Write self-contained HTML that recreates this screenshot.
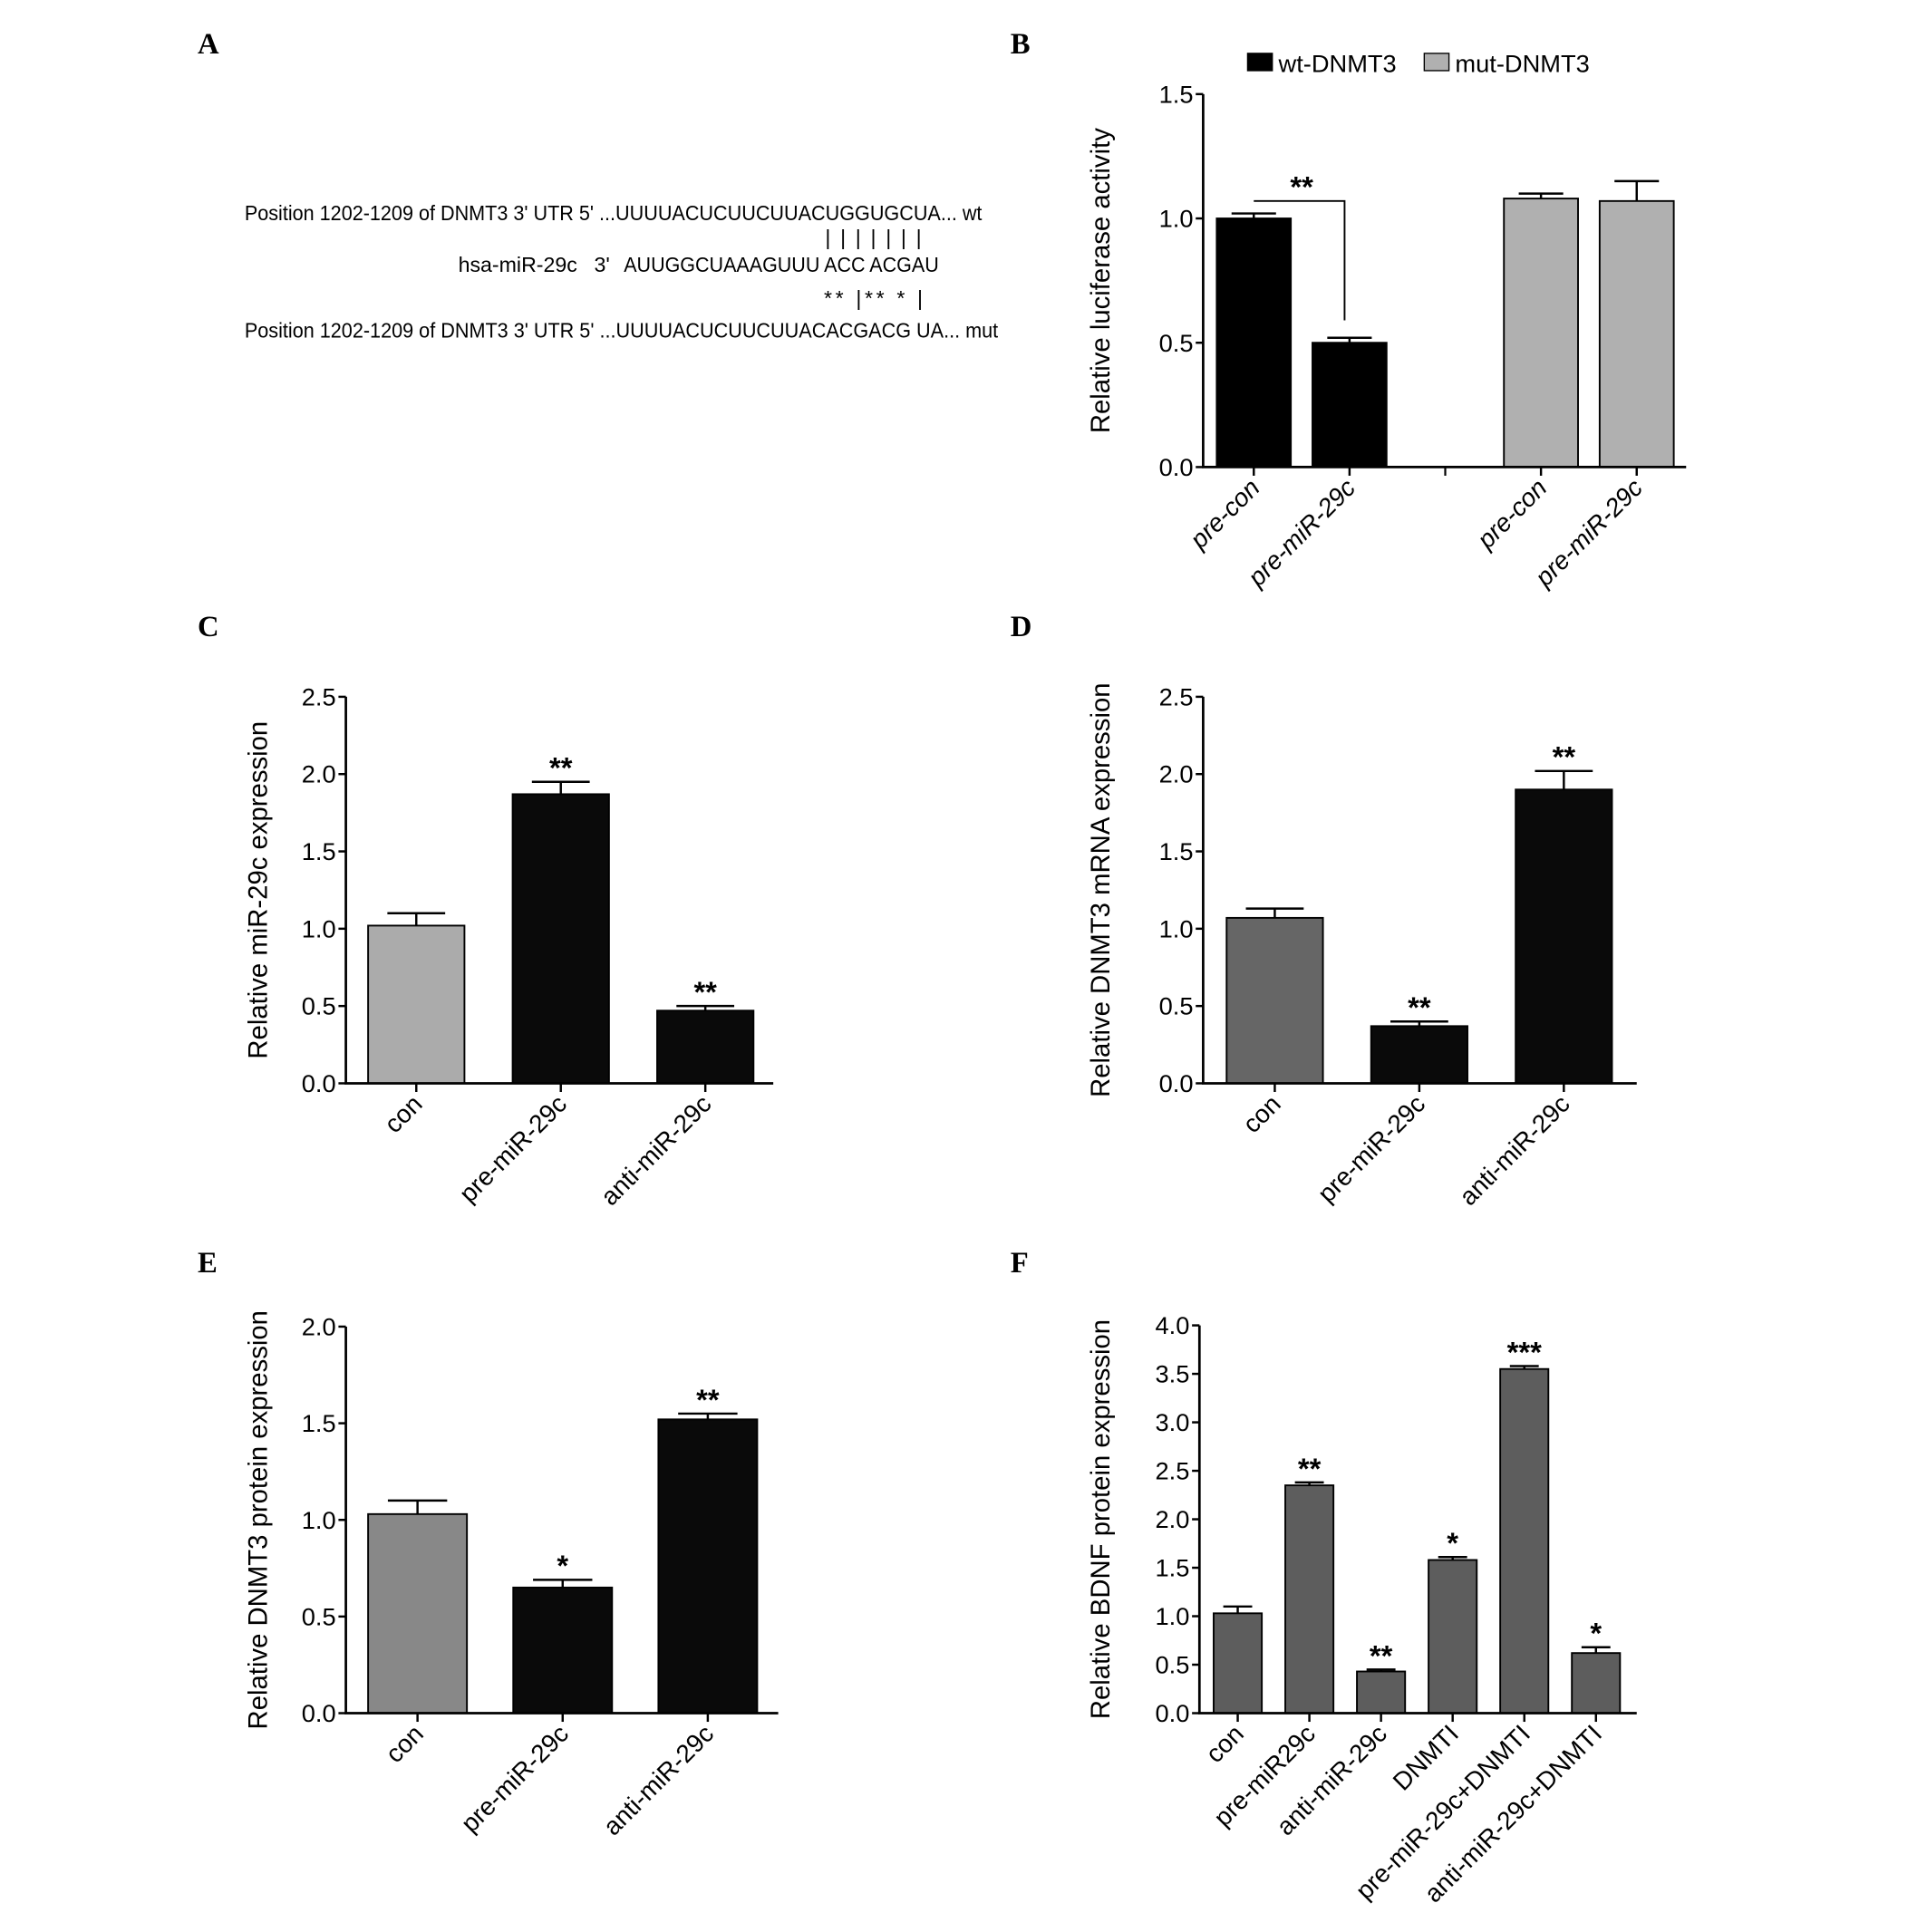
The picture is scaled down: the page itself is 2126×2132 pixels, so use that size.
<!DOCTYPE html>
<html><head><meta charset="utf-8">
<style>
html,body{margin:0;padding:0;background:#fff;}
svg{display:block;font-family:"Liberation Sans",Arial,sans-serif;}
.pl{font-family:"Liberation Serif",serif;font-weight:bold;font-size:24px;}
.tk{font-size:20px;}
.xl{font-size:20.5px;}
.tt{font-size:21.5px;}
.sq{font-size:17px;}
</style></head>
<body>
<svg id="fig" width="2126" height="2132" viewBox="0 0 1560 1564" xmlns="http://www.w3.org/2000/svg">
<rect width="1560" height="1564" fill="#fff"/>
<text class="pl" x="160" y="43">A</text>
<text class="pl" x="818" y="43">B</text>
<text class="pl" x="160" y="515">C</text>
<text class="pl" x="818" y="515">D</text>
<text class="pl" x="160" y="1030">E</text>
<text class="pl" x="818" y="1030">F</text>

<g>
<text class="sq" x="198" y="178" textLength="597" lengthAdjust="spacingAndGlyphs">Position 1202-1209 of DNMT3 3' UTR  5' ...UUUUACUCUUCUUACUGGUGCUA...  wt</text>
<text class="sq" x="668" y="198" textLength="78" lengthAdjust="spacing">|||||||</text>
<text class="sq" x="371" y="220">hsa-miR-29c</text>
<text class="sq" x="481" y="220">3'</text>
<text class="sq" x="505" y="220" textLength="255" lengthAdjust="spacingAndGlyphs">AUUGGCUAAAGUUU ACC ACGAU</text>
<text class="sq" x="667" y="247" textLength="80" lengthAdjust="spacing">** |** * |</text>
<text class="sq" x="198" y="273" textLength="610" lengthAdjust="spacingAndGlyphs">Position 1202-1209 of DNMT3 3' UTR  5' ...UUUUACUCUUCUUACACGACG UA...  mut</text>
</g>
<g id="charts"></g>
</svg>
<script>
// Panel B
const bCats = ["pre-con","pre-miR-29c","pre-con","pre-miR-29c"];
const bVals = [1.0, 0.50, 1.08, 1.07];
const bErr = [0.02, 0.02, 0.02, 0.08];
const bTicks = ["0.0","0.5","1.0","1.5"];
// Panel C
const cCats = ["con","pre-miR-29c","anti-miR-29c"];
const cVals = [1.02, 1.87, 0.47];
const cErr = [0.08, 0.08, 0.03];
const cSig = ["","**","**"];
const cTicks = ["0.0","0.5","1.0","1.5","2.0","2.5"];
// Panel D
const dCats = ["con","pre-miR-29c","anti-miR-29c"];
const dVals = [1.07, 0.37, 1.90];
const dErr = [0.06, 0.03, 0.12];
const dSig = ["","**","**"];
const dTicks = ["0.0","0.5","1.0","1.5","2.0","2.5"];
// Panel E
const eCats = ["con","pre-miR-29c","anti-miR-29c"];
const eVals = [1.03, 0.65, 1.52];
const eErr = [0.07, 0.04, 0.03];
const eSig = ["","*","**"];
const eTicks = ["0.0","0.5","1.0","1.5","2.0"];
// Panel F
const fCats = ["con","pre-miR29c","anti-miR-29c","DNMTI","pre-miR-29c+DNMTI","anti-miR-29c+DNMTI"];
const fVals = [1.03, 2.35, 0.43, 1.58, 3.55, 0.62];
const fErr = [0.07, 0.03, 0.02, 0.03, 0.03, 0.06];
const fSig = ["","**","**","*","***","*"];
const fTicks = ["0.0","0.5","1.0","1.5","2.0","2.5","3.0","3.5","4.0"];

const NS="http://www.w3.org/2000/svg";
const root=document.getElementById('charts');
function mk(tag,attrs,parent){const e=document.createElementNS(NS,tag);for(const k in attrs)e.setAttribute(k,attrs[k]);(parent||root).appendChild(e);return e;}

function chart(o){
  const g=mk('g',{});
  
  
  const ymax=parseFloat(o.ticks[o.ticks.length-1]);
  const y=v=>o.y0-(v/ymax)*(o.y0-o.yTop);
  const x=i=>o.x0+o.start+i*o.step+(o.gapAt!=null&&i>=o.gapAt?o.step:0);
  o.vals.forEach((v,i)=>{
    const cx=x(i), col=o.colors[i];
    const top=y(v+o.err[i]);
    const eb=mk('path',{d:`M${cx} ${y(v)}V${top}M${cx-o.bw*0.3} ${top}H${cx+o.bw*0.3}`,stroke:'#000','stroke-width':1.8,fill:'none'},g);
    
    
    const r=mk('rect',{x:cx-o.bw/2,y:y(v),width:o.bw,height:o.y0-y(v),fill:col,stroke:'#000','stroke-width':1.4},g);
    
    
    if(o.sig&&o.sig[i]){
      const s=mk('text',{x:cx,y:top-3,'text-anchor':'middle','font-size':24,'font-weight':'bold'},g);
      s.textContent=o.sig[i];
      
      
    }
    const tk=mk('line',{x1:cx,x2:cx,y1:o.y0,y2:o.y0+7,stroke:'#000','stroke-width':1.8},g);
    
    
    const lx=cx+6, ly=o.y0+18;
    const t=mk('text',{x:lx,y:ly,'text-anchor':'end',class:'xl',transform:`rotate(-45 ${lx} ${ly})`,'font-style':o.italic?'italic':'normal'},g);
    t.textContent=o.cats[i];
    
    
  });
  if(o.gapAt!=null){
    const gx=o.x0+o.start+o.gapAt*o.step;
    mk('line',{x1:gx,x2:gx,y1:o.y0,y2:o.y0+7,stroke:'#000','stroke-width':1.6},g);
  }
  const ax=mk('path',{d:`M${o.x0} ${o.yTop}V${o.y0}H${o.xEnd}`,stroke:'#000','stroke-width':2,fill:'none'},g);
  
  
  o.ticks.forEach(tv=>{
    const yy=y(parseFloat(tv));
    mk('line',{x1:o.x0-6,x2:o.x0,y1:yy,y2:yy,stroke:'#000','stroke-width':1.8},g);
    const t=mk('text',{x:o.x0-8,y:yy+7,'text-anchor':'end',class:'tk'},g);
    t.textContent=tv;
    
    
  });
  const tt=mk('text',{x:o.titleX,y:(o.yTop+o.y0)/2,'text-anchor':'middle',class:'tt',transform:`rotate(-90 ${o.titleX} ${(o.yTop+o.y0)/2})`},g);
  tt.textContent=o.title;
  
  
  return {g,x,y};
}

const B=chart({name:'chart-b',cats:bCats,vals:bVals,err:bErr,ticks:bTicks,x0:974,y0:378,yTop:76,xEnd:1365,start:41,step:77.5,bw:60,gapAt:2,
  colors:['#000','#000','#b0b0b0','#b0b0b0'],italic:true,titleX:898,title:'Relative luciferase activity'});
const br=mk('path',{d:`M${B.x(0)} ${B.y(1.07)}H${B.x(1)-4}V${B.y(0.59)}`,stroke:'#000','stroke-width':1.4,fill:'none'},B.g);


const bs=mk('text',{x:(B.x(0)+B.x(1))/2,y:B.y(1.07)-3,'text-anchor':'middle','font-size':24,'font-weight':'bold'},B.g);
bs.textContent='**';


const lg=mk('g',{});


mk('rect',{x:1010,y:43,width:20,height:14,fill:'#000',stroke:'#000'},lg);
let lt=mk('text',{x:1035,y:58,class:'tk'},lg); lt.textContent='wt-DNMT3';


mk('rect',{x:1153,y:43,width:20,height:14,fill:'#b0b0b0',stroke:'#000'},lg);
lt=mk('text',{x:1178,y:58,class:'tk'},lg); lt.textContent='mut-DNMT3';



chart({name:'chart-c',cats:cCats,vals:cVals,err:cErr,sig:cSig,ticks:cTicks,x0:280,y0:877,yTop:564,xEnd:626,start:57,step:117,bw:78,
  colors:['#ababab','#0a0a0a','#0a0a0a'],titleX:216,title:'Relative miR-29c expression'});
chart({name:'chart-d',cats:dCats,vals:dVals,err:dErr,sig:dSig,ticks:dTicks,x0:974,y0:877,yTop:564,xEnd:1325,start:58,step:117,bw:78,
  colors:['#666','#0a0a0a','#0a0a0a'],titleX:898,title:'Relative DNMT3 mRNA expression'});
chart({name:'chart-e',cats:eCats,vals:eVals,err:eErr,sig:eSig,ticks:eTicks,x0:280,y0:1387,yTop:1074,xEnd:630,start:58,step:117.5,bw:80,
  colors:['#888','#0a0a0a','#0a0a0a'],titleX:216,title:'Relative DNMT3 protein expression'});
chart({name:'chart-f',cats:fCats,vals:fVals,err:fErr,sig:fSig,ticks:fTicks,x0:971,y0:1387,yTop:1073,xEnd:1325,start:31,step:58,bw:39,
  colors:['#5d5d5d','#5d5d5d','#5d5d5d','#5d5d5d','#5d5d5d','#5d5d5d'],titleX:898,title:'Relative BDNF protein expression'});
</script>
</body></html>
